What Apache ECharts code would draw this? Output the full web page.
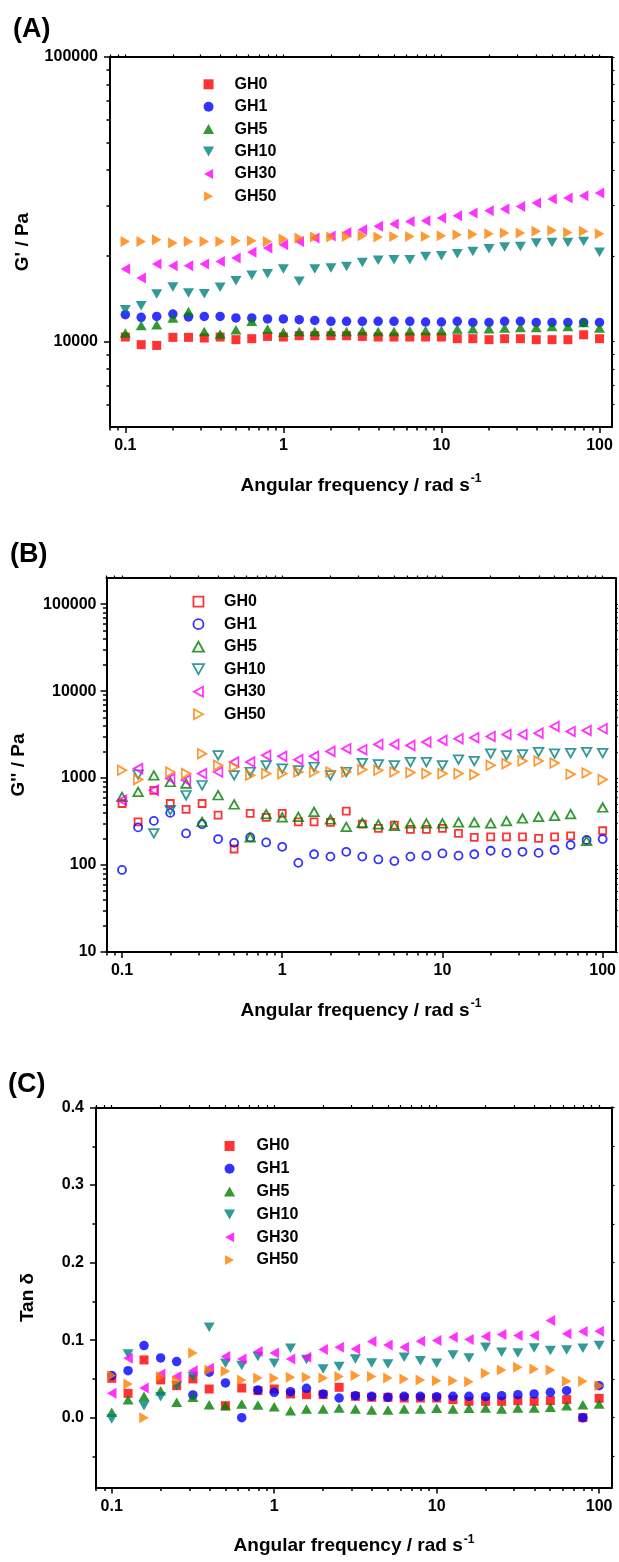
<!DOCTYPE html>
<html><head><meta charset="utf-8">
<script src="https://cdn.jsdelivr.net/npm/echarts@6/dist/echarts.min.js"></script>
<style>html,body{margin:0;padding:0;background:#fff}#c{width:619px;height:1562px}</style>
</head><body><div id="c"></div>
<script>
const FONT = 'Liberation Sans, Arial, Helvetica, sans-serif';
const freq = [0.1,0.126,0.158,0.2,0.251,0.316,0.398,0.501,0.631,0.794,1,1.26,1.58,2,2.51,3.16,3.98,5.01,6.31,7.94,10,12.6,15.8,20,25.1,31.6,39.8,50.1,63.1,79.4,100];
const names = ['GH0','GH1','GH5','GH10','GH30','GH50'];

// (A) G' / Pa
const storage_GH0 = [10360,9740,9680,10330,10330,10280,10360,10140,10220,10410,10360,10470,10470,10470,10470,10410,10360,10360,10360,10360,10360,10220,10220,10140,10220,10220,10140,10140,10140,10550,10220];
const storage_GH1 = [12410,12150,12240,12480,12190,12240,12240,12090,12090,11990,11990,11920,11850,11760,11760,11760,11760,11760,11760,11700,11700,11760,11660,11660,11760,11760,11660,11660,11660,11660,11660];
const storage_GH5 = [10700,11380,11450,12090,12750,10840,10620,10990,11760,11050,10760,10840,10840,10840,10840,10900,10840,10840,10900,10930,10930,11050,11080,11080,11150,11200,11200,11290,11290,11660,11150];
const storage_GH10 = [12930,13350,14680,15540,14800,14720,15490,16350,17070,17300,17970,16260,17970,18120,18350,18960,19270,19380,19380,19900,20010,20340,20720,21180,21470,21580,22180,22290,22290,22470,20560];
const storage_GH30 = [17970,16710,18720,18460,18460,18720,19110,19650,20560,21300,21880,22470,23100,23470,24170,24710,25380,25870,26420,26570,27160,27670,28280,28810,29210,29830,30660,31670,31930,32530,33240];
const storage_GH50 = [22470,22470,22780,22180,22470,22470,22470,22590,22590,22470,22910,23100,23290,23290,23400,23540,23290,23400,23400,23400,23540,23730,23790,23920,24050,24050,24370,24550,24170,24370,23920];

// (B) G'' / Pa  (null = no visible point)
const loss_GH0 = [510,314,721,510,436,510,375,153,392,353,392,314,314,309,416,295,264,288,257,257,264,231,208,211,211,211,203,211,217,null,248];
const loss_GH1 = [87.8,271,322,398,231,295,199,180,208,182,162,106,133,125,142,125,116,111,125,128,136,128,133,146,138,142,138,149,170,194,199];
const loss_GH5 = [607,693,1077,902,865,314,635,497,208,385,353,358,409,334,275,306,293,282,301,301,301,309,309,301,320,343,358,368,385,190,459];
const loss_GH10 = [null,1099,231,428,635,827,1825,1077,1175,1402,1285,1228,1341,1077,1175,1489,1439,1402,1530,1530,1402,1629,1570,1909,1825,1874,1991,1909,1940,1991,1940];
const loss_GH30 = [556,1285,725,987,944,1126,1175,1530,1530,1825,1778,1629,1778,2028,2178,2121,2441,2441,2377,2593,2713,2836,2912,3014,3177,3177,3289,3925,3440,3530,3692];
const loss_GH50 = [1228,961,null,1175,1126,1909,1402,1341,1077,1126,1126,1175,1175,1175,1175,1252,1228,1175,1156,1126,1126,1126,1097,1402,1466,1570,1570,1489,1106,1144,961];

// (C) Tan delta
const tan_GH0 = [0.0508,0.0314,0.0745,0.0487,0.0413,0.05,0.037,0.0155,0.0383,0.0349,0.037,0.0306,0.0297,0.0297,0.0392,0.0276,0.0263,0.0263,0.0254,0.0254,0.0254,0.0233,0.0211,0.0211,0.0211,0.022,0.0211,0.022,0.0233,0,0.025];
const tan_GH1 = [0.0543,0.0607,0.093,0.0771,0.0724,0.0293,0.0586,0.0448,0,0.0357,0.0327,0.0336,0.0379,0.0306,0.0254,0.0284,0.0276,0.0263,0.0276,0.0276,0.0271,0.0276,0.0276,0.0271,0.0284,0.0297,0.0306,0.0327,0.0349,0,0.0413];
const tan_GH5 = [0.0069,0.0233,0.0276,0.0349,0.0198,0.0263,0.0168,0.0155,0.0177,0.0164,0.0142,0.009,0.0112,0.0112,0.0125,0.0112,0.0099,0.0099,0.0112,0.0112,0.0121,0.0112,0.0121,0.0125,0.0112,0.0125,0.0125,0.0134,0.0155,0.0168,0.0177];
const tan_GH10 = [-0.0017,0.0823,0.0155,0.0271,0.0413,0.053,0.1167,0.0702,0.0672,0.0788,0.0702,0.0896,0.0749,0.0629,0.0659,0.0758,0.0706,0.0693,0.078,0.0736,0.0702,0.081,0.0771,0.0909,0.0844,0.0835,0.09,0.0866,0.0874,0.0896,0.093];
const tan_GH30 = [0.0314,0.0767,0.0383,0.0564,0.053,0.0607,0.0637,0.0788,0.0758,0.0853,0.0835,0.0758,0.078,0.0879,0.0909,0.0887,0.0982,0.0939,0.0909,0.0986,0.0995,0.1038,0.1008,0.1047,0.1072,0.1059,0.1059,0.1253,0.1081,0.1111,0.1115];
const tan_GH50 = [0.0543,0.0435,0,0.053,0.0478,0.0835,0.0616,0.0599,0.0487,0.0512,0.0508,0.0521,0.0521,0.0512,0.053,0.0543,0.053,0.0512,0.05,0.0487,0.0478,0.0478,0.0465,0.0573,0.0616,0.065,0.0629,0.0616,0.0469,0.0469,0.0413];

// tick values
const xMajor = [0.1,1,10,100];
const xMinor = [0.08,0.09,0.2,0.3,0.4,0.5,0.6,0.7,0.8,0.9,2,3,4,5,6,7,8,9,20,30,40,50,60,70,80,90];
const yAMinor = [6000,7000,8000,9000,20000,30000,40000,50000,60000,70000,80000,90000];
const yAMajor = [10000,100000];
const yBMajor = [10,100,1000,10000,100000];
const yBMinor = [20,30,40,50,60,70,80,90,200,300,400,500,600,700,800,900,2000,3000,4000,5000,6000,7000,8000,9000,20000,30000,40000,50000,60000,70000,80000,90000];
const yCMajor = [0,0.1,0.2,0.3,0.4];
const yCMinor = [-0.05,0.05,0.15,0.25,0.35];

const colors = ['#ff0000','#0000ff','#008000','#008080','#ff00ff','#ff8000'];
const symbols = ['path://M0,0L10,0L10,10L0,10Z','circle','path://M5,0L10,9L0,9Z','path://M0,0L10,0L5,9Z','path://M9,0L9,10L0,5Z','path://M0,0L0,10L9,5Z'];
const sizeFilled = [9,9.5,[11,9.5],[11,9.5],[9.5,11],[9.5,11]];
const sizeHollow = [7,8,[9.5,8.5],[9.5,8.5],[8.5,9.5],[8.5,9.5]];

const grids = [
  {left:110, top:57, width:502, height:370},
  {left:106.5, top:578, width:511, height:374},
  {left:96, top:1107.5, width:516, height:380}
];

const decFmt = v => { const l = Math.log10(v); return Math.abs(l - Math.round(l)) < 1e-6 ? String(+(+v).toPrecision(6)) : ''; };
const blk = '#000';
const labelStyle = {color:blk, fontSize:16, fontWeight:'bold', fontFamily:FONT};
const nameStyle = {color:blk, fontSize:19, fontWeight:'bold', fontFamily:FONT};

const xAxes = [], yAxes = [];
function addX(gi, cfg) { xAxes.push(Object.assign({gridIndex:gi, type:'log', logBase:10, min:0.08, max:120, splitLine:{show:false}, silent:true}, cfg)); return xAxes.length-1; }
function addY(gi, cfg) { yAxes.push(Object.assign({gridIndex:gi, splitLine:{show:false}, silent:true}, cfg)); return yAxes.length-1; }

const xName = '{m|Angular frequency / rad s}{s|-1}';
const xNameStyle = Object.assign({}, nameStyle, {rich:{m:{fontSize:19, fontWeight:'bold', fontFamily:FONT, color:blk, lineHeight:22, verticalAlign:'bottom'}, s:{fontSize:12, fontWeight:'bold', fontFamily:FONT, color:blk, lineHeight:22, verticalAlign:'top', padding:[0,0,0,1]}}});

const mainX = [];
for (let gi = 0; gi < 3; gi++) {
  mainX.push(addX(gi, {position:'bottom', axisLine:{onZero:false, lineStyle:{color:blk,width:2}},
    axisTick:{length:6, lineStyle:{color:blk,width:1.5}, customValues:xMajor},
    axisLabel:{formatter:decFmt, margin:11, customValues:xMajor, ...labelStyle},
    name:xName, nameLocation:'middle', nameGap:46, nameTextStyle:xNameStyle}));
  addX(gi, {position:'bottom', axisLine:{show:false, onZero:false}, axisLabel:{show:false},
    axisTick:{length:3.5, lineStyle:{color:blk,width:1.5}, customValues:xMinor}});
  addX(gi, {position:'top', axisLine:{onZero:false, lineStyle:{color:blk,width:2}}, axisLabel:{show:false},
    axisTick:{length:2.5, lineStyle:{color:blk,width:1.2}, customValues:xMajor.concat(xMinor)}});
}

const yNames = ["G' / Pa", "G'' / Pa", 'Tan δ'];
const yGaps = [78, 78, 59];
const yLblMargin = [12, 10, 12];
const mainY = [];
// A
mainY.push(addY(0, {type:'log', logBase:10, min:5000, max:100000, position:'left', axisLine:{onZero:false, lineStyle:{color:blk,width:2}},
  axisTick:{length:6, lineStyle:{color:blk,width:1.5}, customValues:yAMajor},
  axisLabel:{formatter:decFmt, margin:yLblMargin[0], customValues:yAMajor, ...labelStyle},
  name:yNames[0], nameLocation:'middle', nameGap:yGaps[0], nameTextStyle:nameStyle}));
addY(0, {type:'log', logBase:10, min:5000, max:100000, position:'left', axisLine:{show:false, onZero:false}, axisLabel:{show:false},
  axisTick:{length:3.5, lineStyle:{color:blk,width:1.5}, customValues:yAMinor}});
addY(0, {type:'log', logBase:10, min:5000, max:100000, position:'right', axisLine:{onZero:false, lineStyle:{color:blk,width:2}}, axisLabel:{show:false},
  axisTick:{length:2.5, lineStyle:{color:blk,width:1.2}, customValues:yAMajor.concat(yAMinor)}});
// B
mainY.push(addY(1, {type:'log', logBase:10, min:10, max:200000, position:'left', axisLine:{onZero:false, lineStyle:{color:blk,width:2}},
  axisTick:{length:6, lineStyle:{color:blk,width:1.5}, customValues:yBMajor},
  axisLabel:{formatter:decFmt, margin:yLblMargin[1], customValues:yBMajor, ...labelStyle},
  name:yNames[1], nameLocation:'middle', nameGap:yGaps[1], nameTextStyle:nameStyle}));
addY(1, {type:'log', logBase:10, min:10, max:200000, position:'left', axisLine:{show:false, onZero:false}, axisLabel:{show:false},
  axisTick:{length:3.5, lineStyle:{color:blk,width:1.5}, customValues:yBMinor}});
addY(1, {type:'log', logBase:10, min:10, max:200000, position:'right', axisLine:{onZero:false, lineStyle:{color:blk,width:2}}, axisLabel:{show:false},
  axisTick:{length:2.5, lineStyle:{color:blk,width:1.2}, customValues:yBMajor.concat(yBMinor)}});
// C
mainY.push(addY(2, {type:'value', min:-0.09, max:0.4, position:'left', axisLine:{onZero:false, lineStyle:{color:blk,width:2}},
  axisTick:{length:6, lineStyle:{color:blk,width:1.5}, customValues:yCMajor},
  axisLabel:{formatter: v => (+v).toFixed(1), margin:yLblMargin[2], customValues:yCMajor, ...labelStyle},
  name:yNames[2], nameLocation:'middle', nameGap:yGaps[2], nameTextStyle:nameStyle}));
addY(2, {type:'value', min:-0.09, max:0.4, position:'left', axisLine:{show:false, onZero:false}, axisLabel:{show:false},
  axisTick:{length:3.5, lineStyle:{color:blk,width:1.5}, customValues:yCMinor}});
addY(2, {type:'value', min:-0.09, max:0.4, position:'right', axisLine:{onZero:false, lineStyle:{color:blk,width:2}}, axisLabel:{show:false},
  axisTick:{length:2.5, lineStyle:{color:blk,width:1.2}, customValues:yCMajor.concat(yCMinor)}});

function makeSeries(tag, gi, arrays, hollow) {
  return arrays.map((arr, k) => ({
    type:'scatter', name: tag + '|' + names[k], xAxisIndex: mainX[gi], yAxisIndex: mainY[gi],
    symbol: symbols[k], symbolSize: hollow ? sizeHollow[k] : sizeFilled[k],
    itemStyle: hollow ? {color:'rgba(255,255,255,0)', borderColor:colors[k], borderWidth:1.8} : {color:colors[k], borderWidth:0},
    emphasis:{disabled:true}, silent:true, animation:false,
    data: freq.map((f, i) => [f, arr[i]]).filter(d => d[1] !== null)
  }));
}

const series = [].concat(
  makeSeries('A', 0, [storage_GH0, storage_GH1, storage_GH5, storage_GH10, storage_GH30, storage_GH50], false),
  makeSeries('B', 1, [loss_GH0, loss_GH1, loss_GH5, loss_GH10, loss_GH30, loss_GH50], true),
  makeSeries('C', 2, [tan_GH0, tan_GH1, tan_GH5, tan_GH10, tan_GH30, tan_GH50], false)
);

const legendBase = {orient:'vertical', itemHeight:10, padding:0, selectedMode:false,
  formatter: n => n.split('|')[1], textStyle:{color:blk, fontSize:16, fontWeight:'bold', fontFamily:FONT}};
const legends = [
  Object.assign({}, legendBase, {left:203, top:76.3, itemWidth:42, itemGap:6.4, data:names.map(n=>'A|'+n)}),
  Object.assign({}, legendBase, {left:192, top:593.7, itemWidth:41, itemGap:6.5, data:names.map(n=>'B|'+n), itemStyle:{borderWidth:1.8}}),
  Object.assign({}, legendBase, {left:224, top:1138, itemWidth:44, itemGap:6.8, data:names.map(n=>'C|'+n)})
];

const panelTitles = [
  {text:'(A)', left:13, top:16},
  {text:'(B)', left:10, top:541},
  {text:'(C)', left:8, top:1071}
].map(t => Object.assign(t, {padding:0, textStyle:{color:blk, fontSize:27, fontWeight:'bold', fontFamily:FONT}}));

const chart = echarts.init(document.getElementById('c'), null, {renderer:'canvas'});
chart.setOption({
  backgroundColor:'#ffffff',
  animation:false,
  title: panelTitles,
  grid: grids.map(g => Object.assign({containLabel:false}, g)),
  xAxis: xAxes,
  yAxis: yAxes,
  legend: legends,
  series: series
});
</script>
</body></html>
